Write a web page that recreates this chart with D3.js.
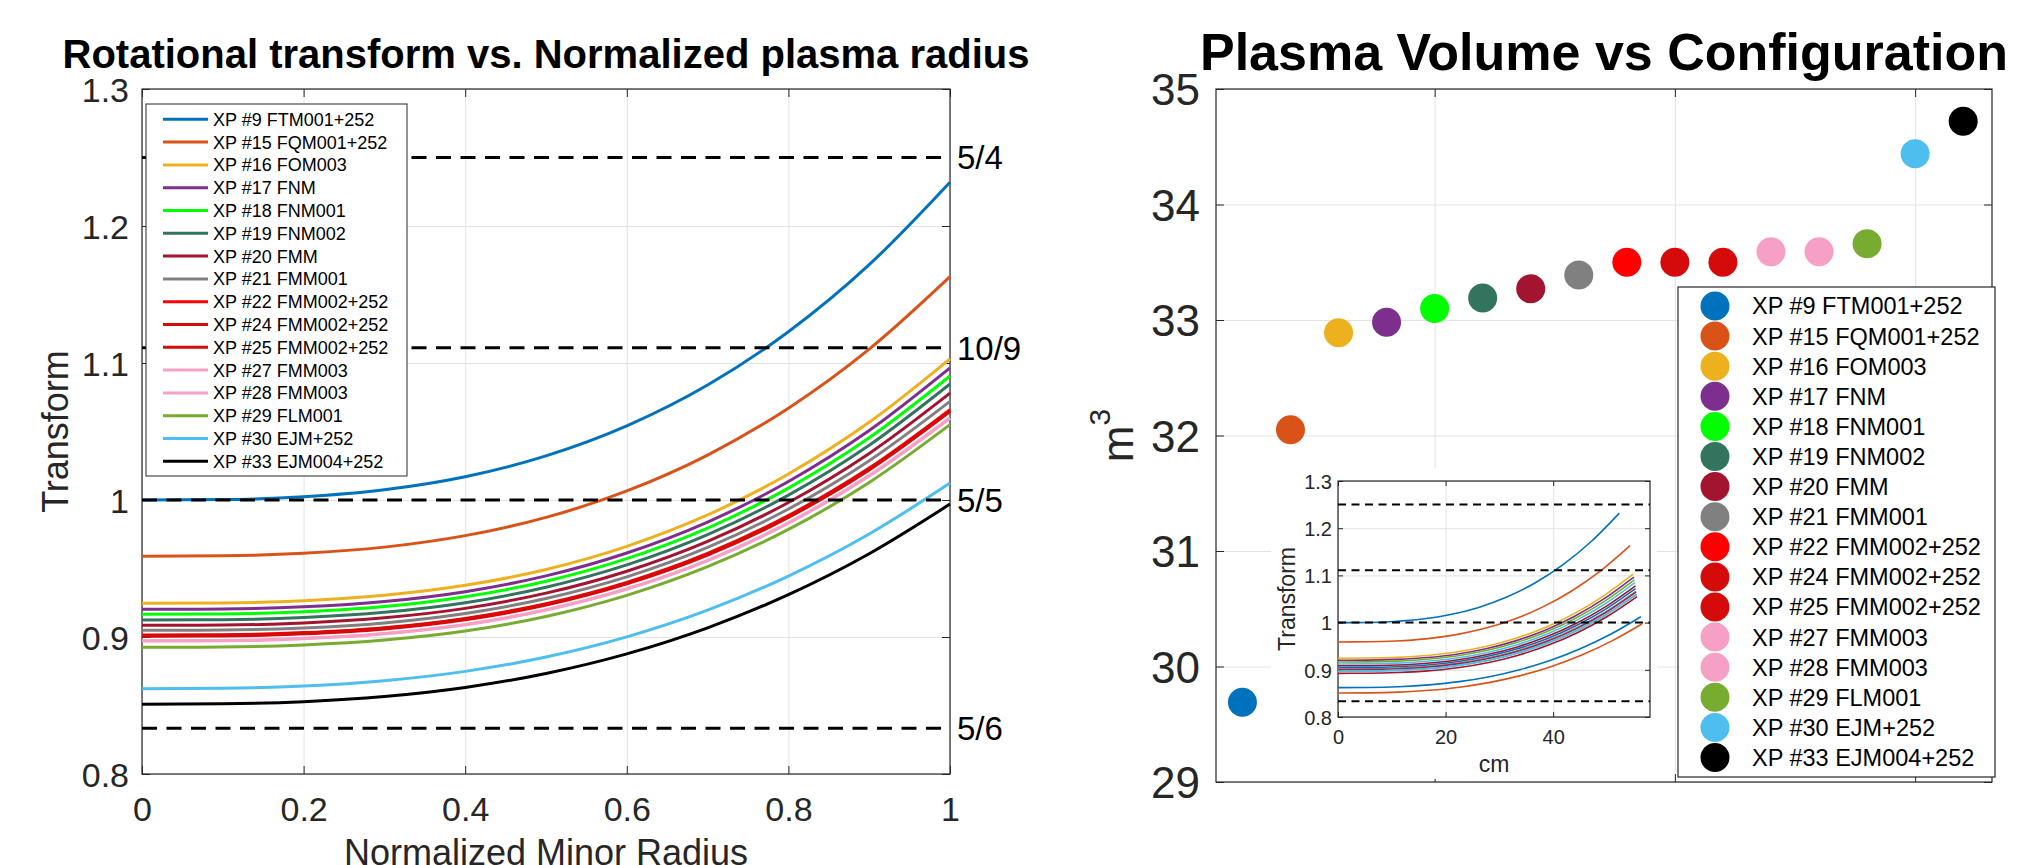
<!DOCTYPE html>
<html>
<head>
<meta charset="utf-8">
<script src="https://cdn.jsdelivr.net/npm/d3@7"></script>
<style>
  body { margin: 0; background: #fff; }
  svg { display: block; font-family: "Liberation Sans", Arial, Helvetica, sans-serif; }
</style>
</head>
<body>
<svg width="2018" height="865"></svg>
<script>
const svg = d3.select('svg');

const width = +svg.attr('width');
const height = +svg.attr('height');

// configurations, in plotting order
const configNames = [
    "XP #9 FTM001+252", "XP #15 FQM001+252", "XP #16 FOM003", "XP #17 FNM",
    "XP #18 FNM001", "XP #19 FNM002", "XP #20 FMM", "XP #21 FMM001",
    "XP #22 FMM002+252", "XP #24 FMM002+252", "XP #25 FMM002+252", "XP #27 FMM003",
    "XP #28 FMM003", "XP #29 FLM001", "XP #30 EJM+252", "XP #33 EJM004+252"
];

const rhoSamples = [0, 0.1, 0.2, 0.3, 0.4, 0.5, 0.6, 0.7, 0.8, 0.9, 1.0];

// rotational transform profiles, one row per configuration
const iotaProfiles = [
    [1.000, 1.0003, 1.0024, 1.0075, 1.0170, 1.0322, 1.0541, 1.0839, 1.1228, 1.1718, 1.232],
    [0.959, 0.9593, 0.9611, 0.9656, 0.9740, 0.9873, 1.0066, 1.0328, 1.0670, 1.1101, 1.163],
    [0.9246, 0.9249, 0.9264, 0.9304, 0.9377, 0.9493, 0.9662, 0.9891, 1.0190, 1.0567, 1.103],
    [0.9202, 0.9204, 0.9220, 0.9259, 0.9331, 0.9446, 0.9613, 0.9839, 1.0135, 1.0507, 1.0964],
    [0.9166, 0.9168, 0.9184, 0.9222, 0.9294, 0.9407, 0.9572, 0.9795, 1.0087, 1.0454, 1.0905],
    [0.9124, 0.9126, 0.9142, 0.9180, 0.9250, 0.9363, 0.9526, 0.9747, 1.0036, 1.0400, 1.0847],
    [0.9085, 0.9087, 0.9102, 0.9140, 0.9209, 0.9320, 0.9480, 0.9698, 0.9982, 1.0340, 1.078],
    [0.9049, 0.9051, 0.9066, 0.9103, 0.9172, 0.9281, 0.9439, 0.9654, 0.9934, 1.0287, 1.072],
    [0.9015, 0.9017, 0.9032, 0.9068, 0.9136, 0.9243, 0.9399, 0.9610, 0.9886, 1.0233, 1.066],
    [0.9010, 0.9012, 0.9027, 0.9063, 0.9131, 0.9238, 0.9393, 0.9604, 0.9879, 1.0226, 1.0652],
    [0.9006, 0.9008, 0.9023, 0.9059, 0.9126, 0.9233, 0.9388, 0.9598, 0.9873, 1.0219, 1.0645],
    [0.8973, 0.8975, 0.8990, 0.9026, 0.9092, 0.9199, 0.9352, 0.9560, 0.9834, 1.0178, 1.060],
    [0.8970, 0.8972, 0.8987, 0.9023, 0.9089, 0.9196, 0.9349, 0.9557, 0.9831, 1.0175, 1.0597],
    [0.8925, 0.8927, 0.8942, 0.8978, 0.9044, 0.9150, 0.9304, 0.9513, 0.9785, 1.0128, 1.055],
    [0.8623, 0.8626, 0.8642, 0.8681, 0.8749, 0.8854, 0.9001, 0.9196, 0.9445, 0.9752, 1.0124],
    [0.8509, 0.8512, 0.8528, 0.8566, 0.8632, 0.8734, 0.8877, 0.9067, 0.9309, 0.9608, 0.997]
];

// minor radius of each configuration (cm), x axis of the inset
const minorRadiusCm = [52.3, 54.3, 54.9, 55.0, 55.1, 55.2, 55.3, 55.3, 55.4, 55.4, 55.4, 55.5, 55.5, 55.6, 56.3, 56.5];

// plasma volume (m^3)
const plasmaVolume = [29.69, 32.05, 32.89, 32.98, 33.10, 33.19, 33.27, 33.39, 33.50, 33.50, 33.50, 33.59, 33.59, 33.66, 34.44, 34.72];

// rational surfaces
const resonances = [1.25, 10 / 9, 1.0, 5 / 6];
const resonanceLabels = ["5/4", "10/9", "5/5", "5/6"];

// tick values
const iotaTicks = [0.8, 0.9, 1, 1.1, 1.2, 1.3];
const rhoTicks = [0, 0.2, 0.4, 0.6, 0.8, 1];
const volumeTicks = [29, 30, 31, 32, 33, 34, 35];
const configTicks = [5, 10, 15];
const cmTicks = [0, 20, 40];

// colours
const configColors = ['#0072BD', '#D95319', '#EDB120', '#7E2F8E', '#00FF00', '#33745F', '#A2142F', '#808080',
                      '#FF0000', '#D50B0B', '#D50B0B', '#F7A0C5', '#F7A0C5', '#77AC30', '#4DBEEE', '#000000'];
const matlabCycle = ['#0072BD', '#D95319', '#EDB120', '#7E2F8E', '#77AC30', '#4DBEEE', '#A2142F'];

const axisColor = '#262626';
const gridColor = '#e3e3e3';

/******************
*** AXES HELPER ***
*******************/
const drawFrame = (g, props) => {
    const { x, y, xTicks, yTicks, xFormat, yFormat, tickLen, fontSize, xPad, yPad } = props;
    const [left, right] = x.range();
    const [bottom, top] = y.range();

    // grid
    g.append('g')
        .attr('transform', `translate(0,${bottom})`)
        .call(d3.axisBottom(x).tickValues(xTicks).tickSize(-(bottom - top)).tickFormat(''))
        .call(s => s.select('.domain').remove())
        .selectAll('line').attr('stroke', gridColor);
    g.append('g')
        .attr('transform', `translate(${left},0)`)
        .call(d3.axisLeft(y).tickValues(yTicks).tickSize(-(right - left)).tickFormat(''))
        .call(s => s.select('.domain').remove())
        .selectAll('line').attr('stroke', gridColor);

    // box
    g.append('rect')
        .attr('x', left).attr('y', top)
        .attr('width', right - left).attr('height', bottom - top)
        .attr('fill', 'none').attr('stroke', axisColor).attr('stroke-width', 1.2);

    // labelled axes, ticks pointing inwards
    const xAxisG = g.append('g')
        .attr('transform', `translate(0,${bottom})`)
        .call(d3.axisBottom(x).tickValues(xTicks).tickSize(-tickLen).tickPadding(xPad).tickFormat(xFormat));
    const yAxisG = g.append('g')
        .attr('transform', `translate(${left},0)`)
        .call(d3.axisLeft(y).tickValues(yTicks).tickSize(-tickLen).tickPadding(yPad).tickFormat(yFormat));
    // mirrored ticks
    const topG = g.append('g')
        .attr('transform', `translate(0,${top})`)
        .call(d3.axisTop(x).tickValues(xTicks).tickSize(-tickLen).tickFormat(''));
    const rightG = g.append('g')
        .attr('transform', `translate(${right},0)`)
        .call(d3.axisRight(y).tickValues(yTicks).tickSize(-tickLen).tickFormat(''));

    [xAxisG, yAxisG, topG, rightG].forEach(a => {
        a.select('.domain').remove();
        a.attr('font-family', null).attr('font-size', fontSize);
        a.selectAll('line').attr('stroke', axisColor);
        a.selectAll('text').attr('fill', axisColor);
    });
    yAxisG.selectAll('text').attr('dy', '0.36em');
};

const fmt = d => String(d);

/*********************
*** LEFT: PROFILES ***
**********************/
const leftG = svg.append('g');
const xRho = d3.scaleLinear().domain([0, 1]).range([142, 950]);
const yIota = d3.scaleLinear().domain([0.8, 1.3]).range([774, 89]);

leftG.call(drawFrame, {
    x: xRho, y: yIota, xTicks: rhoTicks, yTicks: iotaTicks,
    xFormat: fmt, yFormat: fmt, tickLen: 8, fontSize: 34, xPad: 23, yPad: 13
});

const rhoLine = d3.line()
    .x(d => xRho(d[0]))
    .y(d => yIota(d[1]))
    .curve(d3.curveMonotoneX);

leftG.append('g').selectAll('path')
    .data(iotaProfiles)
    .enter().append('path')
    .attr('d', prof => rhoLine(prof.map((v, j) => [rhoSamples[j], v])))
    .attr('fill', 'none')
    .attr('stroke', (d, i) => configColors[i])
    .attr('stroke-width', 3);

leftG.append('g').selectAll('line')
    .data(resonances)
    .enter().append('line')
    .attr('x1', xRho(0)).attr('x2', xRho(1))
    .attr('y1', d => yIota(d)).attr('y2', d => yIota(d))
    .attr('stroke', '#000')
    .attr('stroke-width', 3)
    .attr('stroke-dasharray', '15 9.5');

leftG.append('g').selectAll('text')
    .data(resonances)
    .enter().append('text')
    .attr('x', xRho(1) + 7)
    .attr('y', d => yIota(d))
    .attr('dy', '0.36em')
    .attr('font-size', 33)
    .attr('fill', '#000')
    .text((d, i) => resonanceLabels[i]);

// legend
const legL = leftG.append('g');
legL.append('rect')
    .attr('x', 146).attr('y', 104).attr('width', 261).attr('height', 372)
    .attr('fill', '#fff').attr('stroke', axisColor).attr('stroke-width', 1);
const legLRow = legL.selectAll('g.row')
    .data(configNames)
    .enter().append('g')
    .attr('class', 'row')
    .attr('transform', (d, i) => `translate(0,${119.3 + i * 22.8})`);
legLRow.append('line')
    .attr('x1', 163).attr('x2', 208)
    .attr('stroke', (d, i) => configColors[i])
    .attr('stroke-width', 3);
legLRow.append('text')
    .attr('x', 213).attr('dy', '0.36em')
    .attr('font-size', 18).attr('fill', '#000')
    .text(d => d);

leftG.append('text')
    .attr('x', (xRho(0) + xRho(1)) / 2).attr('y', 68)
    .attr('text-anchor', 'middle')
    .attr('font-size', 40).attr('font-weight', 'bold').attr('fill', '#000')
    .text('Rotational transform vs. Normalized plasma radius');

leftG.append('text')
    .attr('transform', `translate(68,${(yIota(0.8) + yIota(1.3)) / 2}) rotate(-90)`)
    .attr('text-anchor', 'middle')
    .attr('font-size', 36).attr('fill', axisColor)
    .text('Transform');

leftG.append('text')
    .attr('x', (xRho(0) + xRho(1)) / 2).attr('y', 865)
    .attr('text-anchor', 'middle')
    .attr('font-size', 36).attr('fill', axisColor)
    .text('Normalized Minor Radius');

/*******************
*** RIGHT: VOLUME ***
********************/
const rightG = svg.append('g');
const xCfg = d3.scaleLinear().domain([0.45, 16.6]).range([1216, 1992]);
const yVol = d3.scaleLinear().domain([29, 35]).range([782, 89]);

rightG.call(drawFrame, {
    x: xCfg, y: yVol, xTicks: configTicks, yTicks: volumeTicks,
    xFormat: () => '', yFormat: fmt, tickLen: 8, fontSize: 44, xPad: 10, yPad: 16
});

rightG.append('g').selectAll('circle')
    .data(plasmaVolume)
    .enter().append('circle')
    .attr('cx', (d, i) => xCfg(i + 1))
    .attr('cy', d => yVol(d))
    .attr('r', 14.5)
    .attr('fill', (d, i) => configColors[i]);

rightG.append('text')
    .attr('x', (xCfg.range()[0] + xCfg.range()[1]) / 2).attr('y', 70)
    .attr('text-anchor', 'middle')
    .attr('font-size', 52).attr('font-weight', 'bold').attr('fill', '#000')
    .text('Plasma Volume vs Configuration');

const mLabel = rightG.append('text')
    .attr('transform', `translate(1133,${(yVol(29) + yVol(35)) / 2}) rotate(-90)`)
    .attr('text-anchor', 'middle')
    .attr('font-size', 44).attr('fill', axisColor);
mLabel.append('tspan').text('m');
mLabel.append('tspan').attr('font-size', 30).attr('dy', -23).text('3');

/************
*** INSET ***
*************/
const insetG = svg.append('g');
insetG.append('rect')
    .attr('x', 1271).attr('y', 468).attr('width', 386).attr('height', 311)
    .attr('fill', '#fff');

const xCm = d3.scaleLinear().domain([0, 58]).range([1338, 1650]);
const yIotaIn = d3.scaleLinear().domain([0.8, 1.3]).range([717, 481]);

insetG.call(drawFrame, {
    x: xCm, y: yIotaIn, xTicks: cmTicks, yTicks: iotaTicks,
    xFormat: fmt, yFormat: fmt, tickLen: 5, fontSize: 20, xPad: 13, yPad: 6
});

const cmLine = d3.line()
    .x(d => xCm(d[0]))
    .y(d => yIotaIn(d[1]))
    .curve(d3.curveMonotoneX);

insetG.append('g').selectAll('path')
    .data(iotaProfiles)
    .enter().append('path')
    .attr('d', (prof, i) => cmLine(prof.map((v, j) => [rhoSamples[j] * minorRadiusCm[i], v])))
    .attr('fill', 'none')
    .attr('stroke', (d, i) => matlabCycle[i % matlabCycle.length])
    .attr('stroke-width', 1.6);

insetG.append('g').selectAll('line')
    .data(resonances)
    .enter().append('line')
    .attr('x1', xCm(0)).attr('x2', xCm(58))
    .attr('y1', d => yIotaIn(d)).attr('y2', d => yIotaIn(d))
    .attr('stroke', '#000')
    .attr('stroke-width', 2)
    .attr('stroke-dasharray', '8 5.5');

insetG.append('text')
    .attr('transform', `translate(1295,${(yIotaIn(0.8) + yIotaIn(1.3)) / 2}) rotate(-90)`)
    .attr('text-anchor', 'middle')
    .attr('font-size', 23).attr('fill', axisColor)
    .text('Transform');

insetG.append('text')
    .attr('x', (xCm.range()[0] + xCm.range()[1]) / 2).attr('y', 772)
    .attr('text-anchor', 'middle')
    .attr('font-size', 23).attr('fill', axisColor)
    .text('cm');

/*******************
*** RIGHT LEGEND ***
********************/
const legR = svg.append('g');
legR.append('rect')
    .attr('x', 1678).attr('y', 287).attr('width', 317).attr('height', 490)
    .attr('fill', '#fff').attr('stroke', axisColor).attr('stroke-width', 1.2);
const legRRow = legR.selectAll('g.row')
    .data(configNames)
    .enter().append('g')
    .attr('class', 'row')
    .attr('transform', (d, i) => `translate(0,${306 + i * 30.1})`);
legRRow.append('circle')
    .attr('cx', 1715).attr('r', 14.5)
    .attr('fill', (d, i) => configColors[i]);
legRRow.append('text')
    .attr('x', 1752).attr('dy', '0.36em')
    .attr('font-size', 23.5).attr('fill', '#000')
    .text(d => d);
</script>
</body>
</html>
